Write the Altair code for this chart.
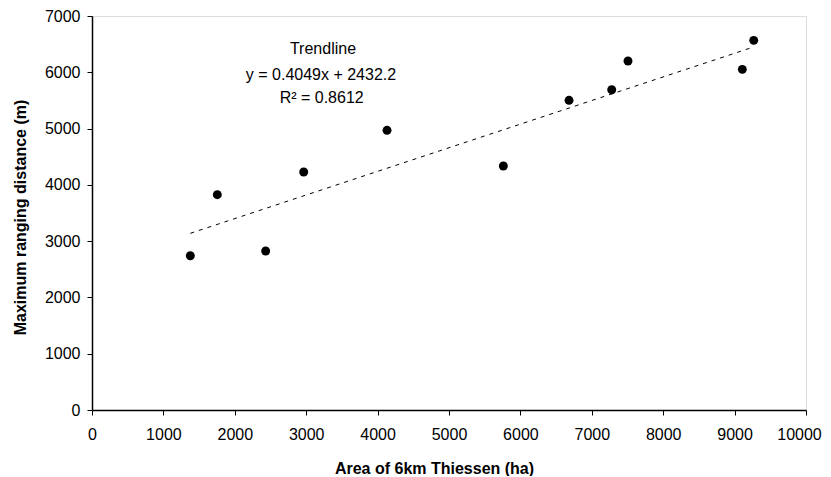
import altair as alt
import pandas as pd

# Data
area_ha = [1377, 1755, 2432, 2965, 4132, 5761, 6681, 7279, 7507, 9108, 9268]
max_range_m = [2741, 3825, 2825, 4228, 4969, 4335, 5502, 5690, 6200, 6052, 6567]

trend_x = [1377, 9268]
trend_y = [3139, 6450]

annot_text = ["Trendline", "y = 0.4049x + 2432.2", "R\u00b2 = 0.8612"]
annot_x = [3235, 3207, 3217]
annot_y = [6413, 5951, 5548]

x_ticks = list(range(0, 10001, 1000))
y_ticks = list(range(0, 7001, 1000))

pts = pd.DataFrame({"x": area_ha, "y": max_range_m})
trend = pd.DataFrame({"x": trend_x, "y": trend_y})
annot = pd.DataFrame({"x": annot_x, "y": annot_y, "t": annot_text})

FONT = "Liberation Sans"
FS = 16

xscale = alt.Scale(domain=[0, 10000], nice=False, zero=True)
yscale = alt.Scale(domain=[0, 7000], nice=False, zero=True)

xaxis = alt.Axis(
    title="Area of 6km Thiessen (ha)", values=x_ticks, grid=False, format="d",
    labelFont=FONT, labelFontSize=FS, labelColor="black",
    titleFont=FONT, titleFontSize=FS, titleFontWeight="bold", titleColor="black",
    domainColor="black", domainWidth=1.5, tickColor="black", tickSize=5, tickWidth=1,
    labelPadding=11, labelFlush=False,
    labelOffset={"condition": {"test": "datum.value == 10000", "value": -7}, "value": 0},
    titleX=342, titleY=63, titleAlign="center", titleBaseline="alphabetic", titleAnchor="start",
)
yaxis = alt.Axis(
    title="Maximum ranging distance (m)", values=y_ticks, grid=False, format="d",
    labelFont=FONT, labelFontSize=FS, labelColor="black",
    titleFont=FONT, titleFontSize=FS, titleFontWeight="bold", titleColor="black",
    domainColor="black", domainWidth=1.5, tickColor="black", tickSize=5, tickWidth=1,
    labelPadding=7, labelFlush=False,
    titleX=-67, titleY=201, titleAlign="center", titleBaseline="alphabetic", titleAngle=270,
    titleAnchor="start",
)

points = alt.Chart(pts).mark_circle(color="black", opacity=1, size=80).encode(
    x=alt.X("x:Q", scale=xscale, axis=xaxis),
    y=alt.Y("y:Q", scale=yscale, axis=yaxis),
)

line = alt.Chart(trend).mark_line(color="black", strokeWidth=1, strokeDash=[4, 5]).encode(
    x=alt.X("x:Q", scale=xscale),
    y=alt.Y("y:Q", scale=yscale),
)

text = alt.Chart(annot).mark_text(font=FONT, fontSize=FS, color="black", align="center", baseline="middle").encode(
    x=alt.X("x:Q", scale=xscale),
    y=alt.Y("y:Q", scale=yscale),
    text="t:N",
)

chart = alt.layer(line, points, text).properties(
    width=714, height=394,
    autosize=alt.AutoSizeParams(type="none"),
    padding={"left": 84, "top": 8, "right": 17, "bottom": 66},
).configure_view(stroke="#999999", strokeWidth=1).configure(background="white")

chart.save("out.html", embed_options={"renderer": "svg", "actions": False})
